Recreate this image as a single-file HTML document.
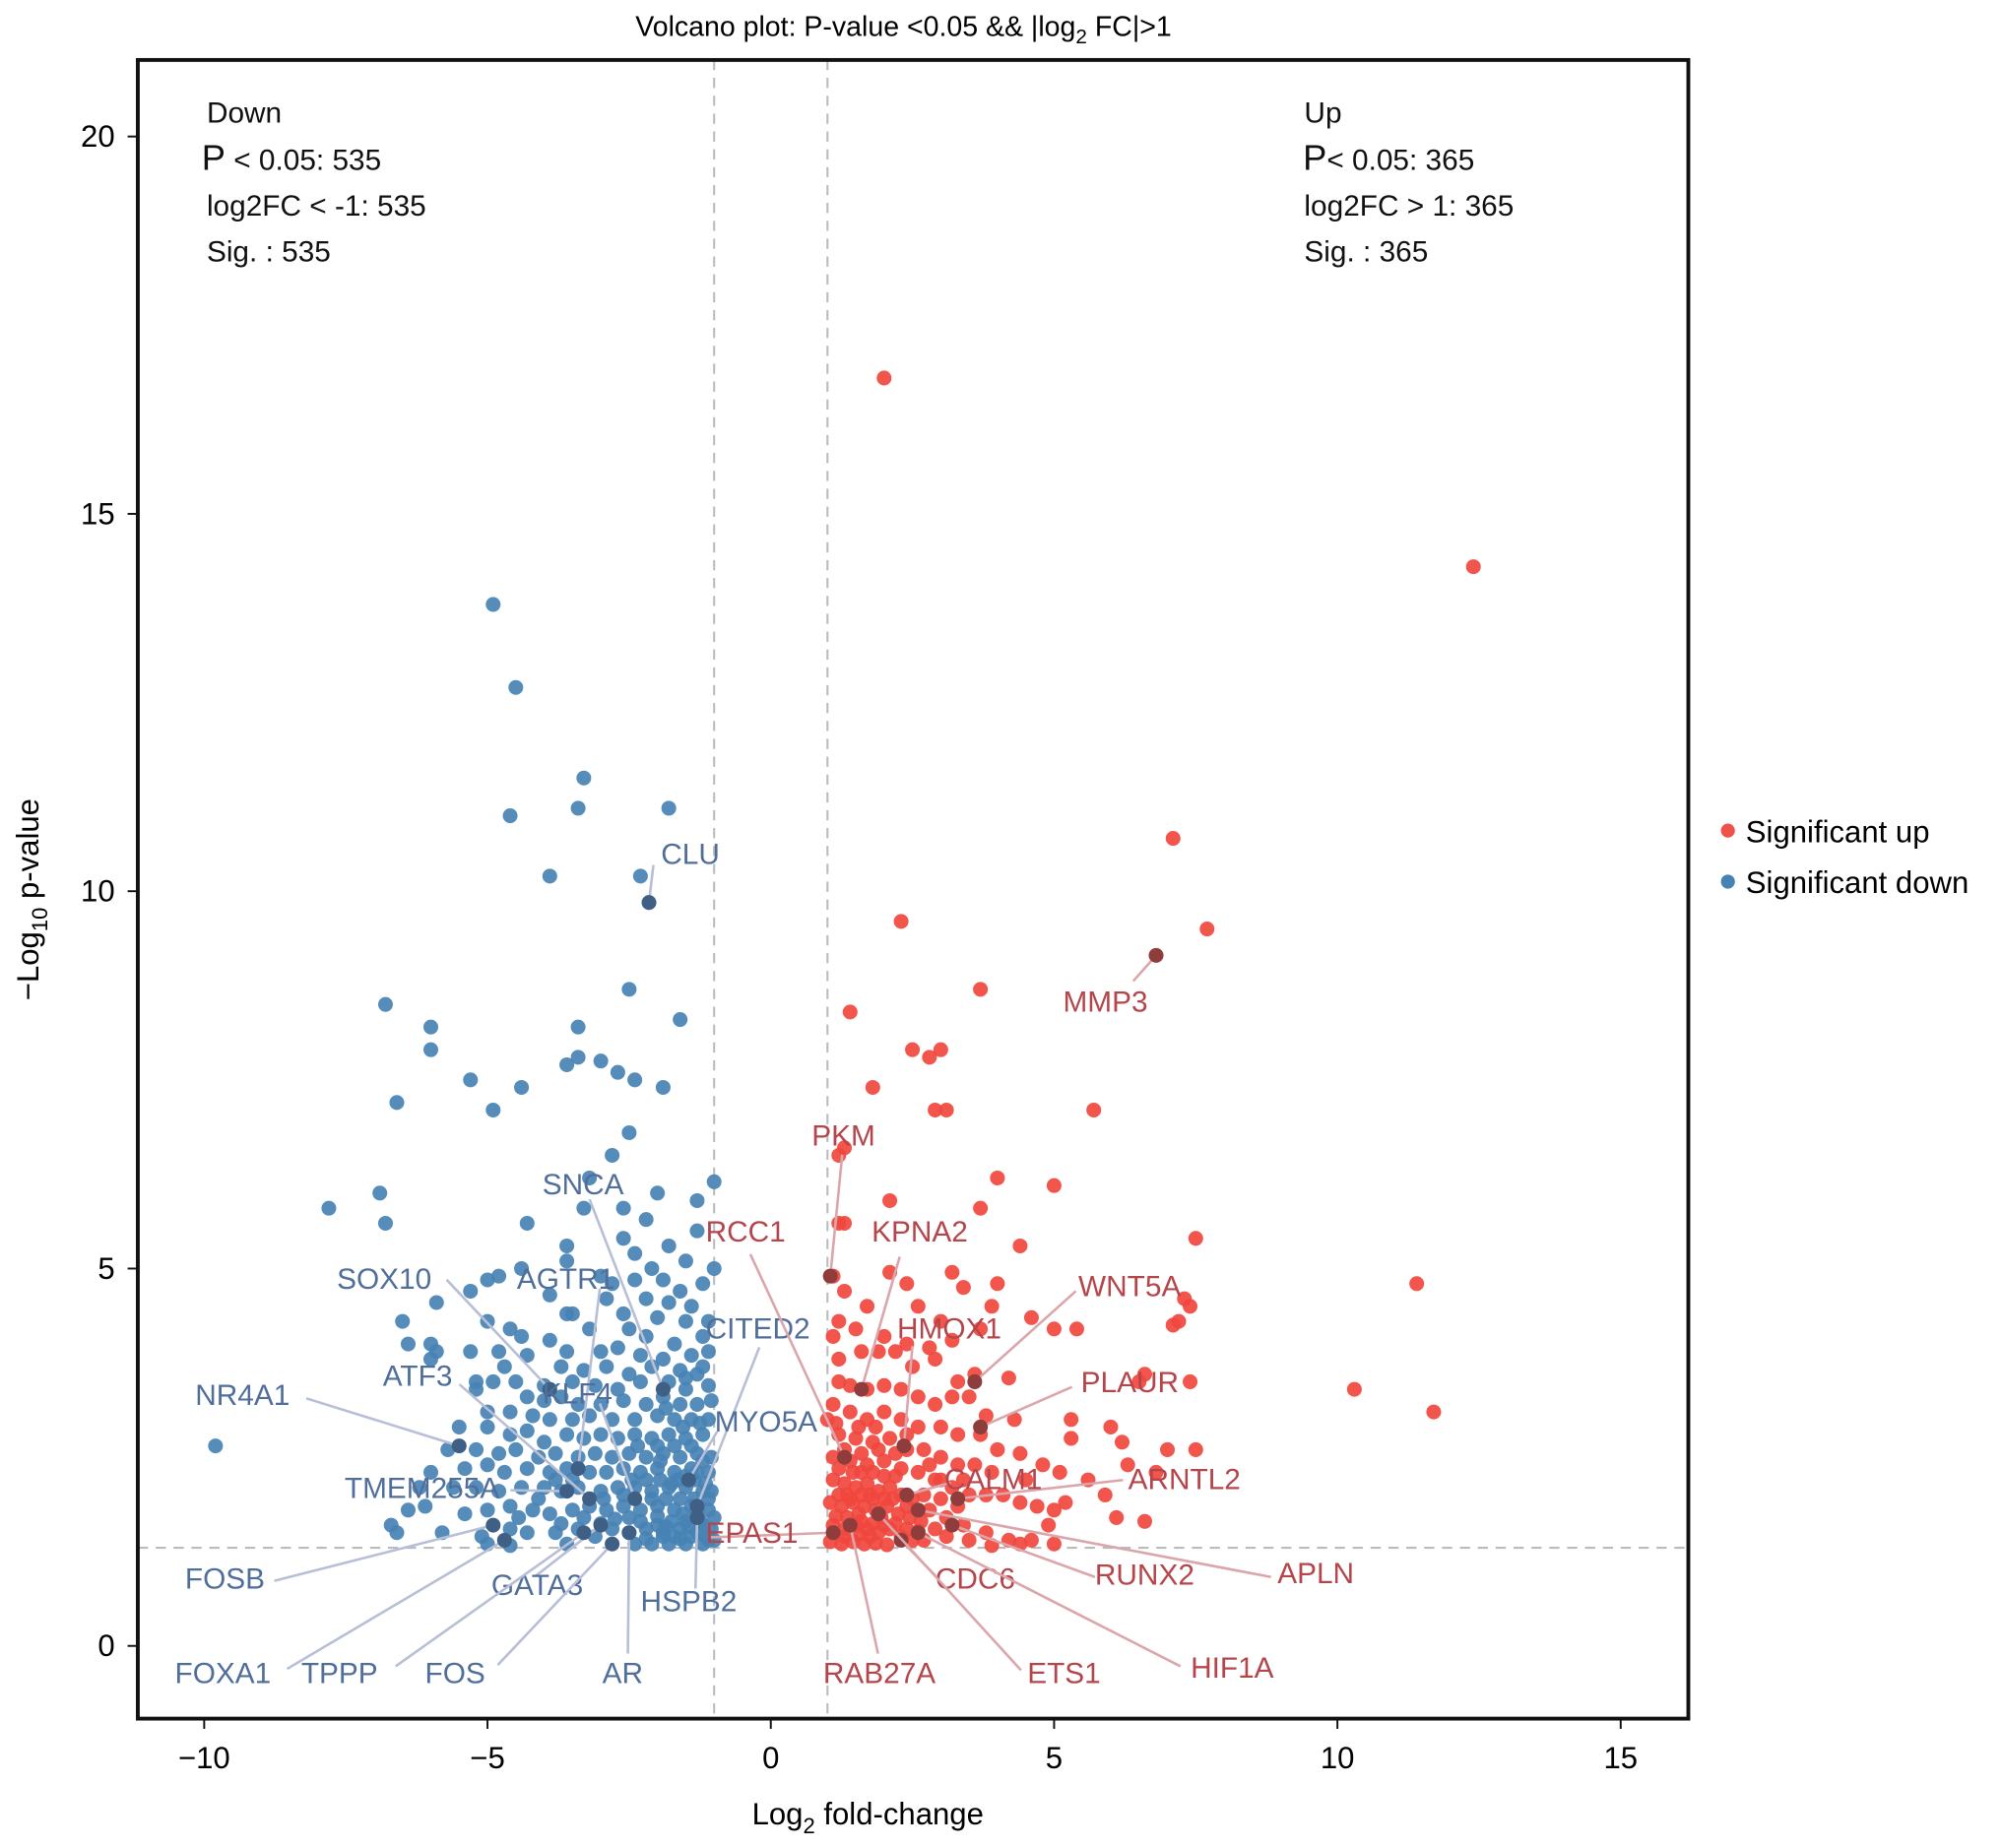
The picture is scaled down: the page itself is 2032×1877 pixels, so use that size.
<!DOCTYPE html>
<html><head><meta charset="utf-8"><style>
html,body{margin:0;padding:0;background:#fff}
svg{display:block}
text{font-family:"Liberation Sans",Arial,sans-serif}
</style></head><body>
<svg id="chart" width="2032" height="1877" viewBox="0 0 1568 1448.4" xmlns="http://www.w3.org/2000/svg">
<text x="708" y="28" font-size="22" text-anchor="middle">Volcano plot: P-value &lt;0.05 &amp;&amp; |log<tspan font-size="16" dy="6">2</tspan><tspan dy="-6"> FC|&gt;1</tspan></text>
<g id="ann" font-size="23" fill="#111">
<text x="162" y="96">Down</text>
<text x="158" y="133"><tspan font-size="28">P</tspan> &lt; 0.05: 535</text>
<text x="162" y="169">log2FC &lt; -1: 535</text>
<text x="162" y="205">Sig. : 535</text>
<text x="1022" y="96">Up</text>
<text x="1021" y="133"><tspan font-size="28">P</tspan>&lt; 0.05: 365</text>
<text x="1022" y="169">log2FC &gt; 1: 365</text>
<text x="1022" y="205">Sig. : 365</text>
</g>
<g font-size="24">
<circle cx="1354" cy="651" r="5.5" fill="#f0524a"/>
<text x="1368" y="660">Significant up</text>
<circle cx="1354" cy="691" r="5.5" fill="#4682b4"/>
<text x="1368" y="700">Significant down</text>
</g>
<text x="680" y="1430" font-size="24" text-anchor="middle">Log<tspan font-size="17" dy="7">2</tspan><tspan dy="-7"> fold-change</tspan></text>
<text transform="translate(30,705) rotate(-90)" font-size="24" text-anchor="middle">−Log<tspan font-size="17" dy="7">10</tspan><tspan dy="-7"> p-value</tspan></text>
<g id="plot"></g>
</svg>
<script>
const xTicks = [-10, -5, 0, 5, 10, 15];
const xTickLabels = ["−10", "−5", "0", "5", "10", "15"];
const yTicks = [0, 5, 10, 15, 20];
const yTickLabels = ["0", "5", "10", "15", "20"];
const pThreshold = 1.3;
const fcThreshold = 1;
const downPoints = [[-4.9,13.8],[-4.5,12.7],[-3.3,11.5],[-4.6,11.0],[-3.4,11.1],[-1.8,11.1],[-3.9,10.2],[-2.3,10.2],[-2.5,8.7],[-6.8,8.5],[-6.0,8.2],[-6.0,7.9],[-3.4,8.2],[-1.6,8.3],[-6.6,7.2],[-5.3,7.5],[-4.9,7.1],[-4.4,7.4],[-3.6,7.7],[-3.4,7.8],[-3.0,7.75],[-2.7,7.6],[-2.4,7.5],[-1.9,7.4],[-2.5,6.8],[-2.8,6.5],[-7.8,5.8],[-6.9,6.0],[-6.8,5.6],[-1.0,6.15],[-9.8,2.65],
[-3.2,6.2],[-2.0,6.0],[-1.3,5.9],[-3.3,5.8],[-2.6,5.8],[-4.3,5.6],[-2.2,5.65],[-1.3,5.5],[-2.6,5.4],[-3.6,5.3],[-1.8,5.3],[-2.4,5.2],[-1.5,5.1],[-3.6,5.1],[-4.4,5.0],[-2.1,5.0],[-1.0,5.0],
[-4.8,4.9],[-5.0,4.85],[-3.0,4.9],[-2.8,4.8],[-2.4,4.85],[-1.9,4.85],[-1.6,4.7],[-1.2,4.8],[-5.3,4.7],[-3.9,4.65],[-2.9,4.6],[-2.2,4.6],[-1.8,4.55],[-1.4,4.5],[-5.9,4.55],[-3.6,4.4],[-3.5,4.4],[-2.6,4.4],[-2.0,4.35],[-1.5,4.3],[-1.1,4.3],
[-6.5,4.3],[-5.0,4.3],[-4.6,4.2],[-4.4,4.1],[-3.9,4.05],[-3.2,4.2],[-2.5,4.2],[-2.2,4.1],[-1.7,4.0],[-1.2,4.1],[-6.0,4.0],[-6.4,4.0],[-5.3,3.9],[-4.8,3.9],[-4.3,3.85],[-3.6,3.9],[-3.0,3.9],[-2.7,3.95],[-2.3,3.85],[-1.9,3.8],[-1.4,3.85],[-1.1,3.9],
[-5.9,3.9],[-6.0,3.8],[-4.7,3.7],[-3.7,3.7],[-3.3,3.65],[-2.9,3.7],[-2.5,3.6],[-2.1,3.7],[-1.6,3.65],[-1.3,3.6],[-5.2,3.5],[-4.9,3.5],[-4.5,3.5],[-4.0,3.45],[-3.5,3.5],[-3.1,3.45],[-2.7,3.4],[-2.3,3.5],[-1.8,3.5],[-1.5,3.4],[-1.1,3.45],
[-5.2,3.4],[-4.3,3.3],[-4.0,3.25],[-3.7,3.3],[-3.4,3.2],[-3.0,3.2],[-2.6,3.25],[-2.2,3.2],[-1.9,3.3],[-1.6,3.2],[-1.3,3.2],[-1.05,3.25],[-5.0,3.1],[-4.6,3.1],[-4.2,3.05],[-3.9,3.0],[-3.5,3.0],[-3.2,3.05],[-2.8,3.0],[-2.4,3.0],[-2.0,3.05],[-1.7,3.0],[-1.4,3.0],[-1.1,3.0],
[-5.5,2.9],[-5.0,2.9],[-4.6,2.8],[-4.3,2.85],[-4.0,2.7],[-3.6,2.8],[-3.3,2.75],[-3.0,2.8],[-2.7,2.75],[-2.4,2.8],[-2.1,2.75],[-1.8,2.8],[-1.5,2.75],[-1.2,2.8],[-5.7,2.6],[-5.2,2.6],[-4.8,2.55],[-4.5,2.6],[-4.1,2.5],[-3.8,2.55],[-3.4,2.5],[-3.1,2.55],[-2.8,2.5],[-2.5,2.55],[-2.2,2.5],[-1.9,2.55],[-1.6,2.5],[-1.3,2.55],[-1.05,2.5],
[-6.0,2.3],[-5.4,2.35],[-5.0,2.4],[-4.7,2.3],[-4.3,2.35],[-3.9,2.3],[-3.6,2.35],[-3.2,2.3],[-2.9,2.3],[-2.6,2.35],[-2.3,2.3],[-2.0,2.35],[-1.7,2.3],[-1.4,2.35],[-1.1,2.3],[-6.2,2.1],[-5.6,2.1],[-5.2,2.1],[-4.8,2.05],[-4.4,2.1],[-4.0,2.1],[-3.7,2.05],[-3.4,2.1],[-3.0,2.05],[-2.7,2.1],[-2.4,2.1],[-2.1,2.05],[-1.8,2.1],[-1.5,2.1],[-1.2,2.05],
[-6.4,1.8],[-6.1,1.85],[-5.4,1.75],[-5.0,1.8],[-4.6,1.85],[-4.2,1.8],[-3.9,1.75],[-3.5,1.8],[-3.2,1.85],[-2.9,1.8],[-2.6,1.85],[-2.3,1.8],[-2.0,1.85],[-1.7,1.8],[-1.4,1.85],[-1.1,1.8],[-6.7,1.6],[-6.6,1.5],[-5.8,1.5],[-5.1,1.45],[-4.6,1.55],[-4.3,1.5],[-3.8,1.5],[-3.4,1.55],[-3.1,1.45],[-2.8,1.55],[-2.5,1.5],[-2.2,1.55],[-1.9,1.5],[-1.6,1.55],[-1.3,1.5],[-1.05,1.55],[-5.0,1.35],[-4.6,1.33],[-3.6,1.35],[-2.4,1.35],[-2.1,1.35],[-1.8,1.35],[-1.5,1.35],[-1.2,1.35],[-1.0,1.4],
[-2.0,1.6],[-1.75,1.65],[-1.5,1.65],[-1.25,1.65],[-1.0,1.7],[-2.1,1.95],[-1.85,1.95],[-1.6,1.95],[-1.35,1.95],[-1.1,1.95],[-1.95,2.2],[-1.65,2.2],[-1.35,2.2],[-1.15,2.15],[-1.9,1.45],[-1.6,1.42],[-1.4,1.45],[-1.15,1.45],[-2.3,1.65],[-2.5,1.7],
[-2.2,1.42],[-2.0,1.72],[-1.85,1.58],[-1.7,1.45],[-1.55,1.75],[-1.45,1.58],[-1.3,1.78],[-1.2,1.6],[-1.1,1.4],[-1.05,2.05],[-1.2,2.45],[-1.4,2.65],[-1.7,2.65],[-2.0,2.65],[-1.55,2.9],[-1.25,2.95],[-1.5,3.55],[-1.2,3.7],[-1.85,3.15],[-2.35,2.65],[-2.6,2.0],[-2.75,1.68],[-3.0,1.62],[-2.95,1.95],[-3.3,1.7],[-3.5,2.2],[-3.8,2.2],[-4.1,1.95],[-4.45,1.7],[-3.7,1.62],[-2.2,2.2],[-1.95,2.45],[-1.75,2.15],[-1.5,2.25],[-1.3,2.3],[-2.45,2.2]];
const upPoints = [[2.0,16.8],[12.4,14.3],[7.1,10.7],[2.3,9.6],[7.7,9.5],[3.7,8.7],[1.4,8.4],[2.5,7.9],[2.8,7.8],[3.0,7.9],[1.8,7.4],[2.9,7.1],[3.1,7.1],[5.7,7.1],[1.2,6.5],[1.3,6.6],[4.0,6.2],[5.0,6.1],[2.1,5.9],[3.7,5.8],[1.2,5.6],[7.5,5.4],[4.4,5.3],[11.4,4.8],[10.3,3.4],[11.7,3.1],[7.3,4.6],[7.4,4.5],[7.2,4.3],[7.1,4.25],[5.0,4.2],[6.6,3.6],[7.4,3.5],
[1.3,5.6],[1.1,4.9],[2.1,4.95],[2.4,4.8],[3.2,4.95],[3.4,4.75],[4.0,4.8],[3.9,4.5],[3.7,4.2],[4.6,4.35],[5.4,4.2],[1.3,4.7],[1.7,4.5],[2.6,4.5],[3.0,4.3],[1.2,4.3],[1.5,4.2],[2.0,4.1],[2.4,4.0],[2.8,3.95],[3.2,4.05],[1.1,4.1],[1.6,3.9],[1.9,3.9],[2.2,3.9],[2.5,3.7],[2.9,3.8],[3.3,3.5],[3.6,3.6],[4.2,3.55],[1.2,3.5],[1.4,3.45],[1.7,3.4],[2.0,3.45],[2.3,3.4],[2.6,3.3],[2.9,3.2],[3.2,3.3],[3.5,3.3],[3.8,3.05],[4.3,3.0],[5.3,3.0],[5.3,2.75],[6.5,3.5],[6.0,2.9],[6.2,2.7],[7.0,2.6],[7.5,2.6],[6.3,2.4],[6.8,2.3],[5.6,2.2],[5.9,2.0],[6.1,1.7],[6.6,1.65],
[1.1,3.2],[1.4,3.1],[1.7,3.0],[2.0,3.1],[2.3,3.0],[2.6,2.9],[3.0,2.9],[3.3,2.8],[3.7,2.8],[4.0,2.6],[4.4,2.55],[4.8,2.4],[5.1,2.3],[3.6,2.4],[3.9,2.3],[1.2,2.8],[1.5,2.75],[1.8,2.7],[2.1,2.75],[2.4,2.6],[2.7,2.6],[3.0,2.5],[3.3,2.4],[1.1,2.5],[1.4,2.45],[1.7,2.4],[2.0,2.45],[2.3,2.35],[2.6,2.3],[2.9,2.2],[3.2,2.1],[3.5,2.0],[3.8,2.0],[4.1,2.0],[4.4,1.9],[4.7,1.85],[5.0,1.8],[5.2,1.9],[4.5,2.2],[4.9,1.6],[4.6,1.4],[5.0,1.35],[4.2,1.4],[3.8,1.5],[3.4,1.6],[3.1,1.7],[2.8,1.8],
[1.1,2.2],[1.3,2.15],[1.5,2.1],[1.7,2.15],[1.9,2.05],[2.1,2.1],[2.3,2.0],[2.5,1.95],[2.7,2.0],[1.05,1.9],[1.25,1.85],[1.45,1.9],[1.65,1.85],[1.85,1.8],[2.05,1.85],[2.25,1.75],[2.45,1.7],[2.65,1.65],[2.9,1.55],[3.1,1.45],[3.5,1.4],[1.1,1.6],[1.3,1.55],[1.5,1.6],[1.7,1.55],[1.9,1.5],[2.1,1.55],[2.3,1.45],[2.5,1.4],[2.7,1.4],[1.05,1.38],[1.25,1.35],[1.45,1.38],[1.65,1.35],[1.85,1.36],[2.05,1.34],[3.9,1.33],[4.4,1.35],[1.2,3.8],[1.0,3.0],[1.6,2.3],[1.9,2.6],[2.2,2.25],[1.35,2.0],[1.55,1.75],[1.75,2.0],[1.95,1.7],[2.15,1.95],
[1.15,1.72],[1.35,1.7],[1.6,1.65],[1.8,1.62],[2.0,1.6],[2.2,1.62],[2.4,1.55],[1.2,2.0],[1.4,1.95],[1.6,2.0],[1.8,1.95],[2.0,1.95],[2.4,1.85],[2.6,1.8],[1.2,2.35],[1.45,2.3],[1.8,2.3],[2.0,2.25],[1.3,2.6],[1.6,2.55],[2.2,2.55],[1.15,2.95],[1.55,2.9],[1.85,2.9],[2.4,2.8],[2.8,2.4],[3.0,2.2],[3.4,2.2],[1.3,1.45],[1.55,1.48],[1.75,1.45],[2.6,1.52],[3.3,1.85],[3.0,1.95]];
const downGenes = ["CLU","SNCA","SOX10","AGTR1","CITED2","ATF3","KLF4","NR4A1","MYO5A","TMEM255A","FOSB","GATA3","HSPB2","FOXA1","TPPP","FOS","AR"];
const downGeneX = [-2.15,-1.9,-3.9,-3.4,-1.3,-3.2,-2.4,-5.5,-1.45,-3.6,-4.9,-3.0,-1.3,-4.7,-3.3,-2.8,-2.5];
const downGeneY = [9.85,3.4,3.4,2.35,1.85,1.95,1.95,2.65,2.2,2.05,1.6,1.6,1.7,1.4,1.5,1.35,1.5];
const upGenes = ["MMP3","PKM","RCC1","KPNA2","WNT5A","HMOX1","PLAUR","ARNTL2","CALM1","EPAS1","CDC6","RUNX2","APLN","RAB27A","ETS1","HIF1A"];
const upGeneX = [6.8,1.05,1.3,1.6,3.6,2.35,3.7,3.3,2.4,1.1,2.3,3.2,2.6,1.4,1.9,2.6];
const upGeneY = [9.15,4.9,2.5,3.4,3.5,2.65,2.9,1.95,2.0,1.5,1.4,1.6,1.8,1.6,1.75,1.5];
// label layout (pixel anchor of text, and leader-line start) - layout, not data
const downLabelPos = [[518,677,512,678],[425,936,462,940],[264,1010,350,1003],[405,1010,470,1010],[553,1049,595,1056],[300,1086,360,1085],[425,1100,470,1100],[153,1101,240,1096],[560,1122,562,1122],[270,1174,400,1168],[145,1245,215,1239],[385,1250,420,1235],[502,1263,545,1245],[137,1319,225,1308],[236,1319,310,1306],[333,1319,390,1305],[472,1319,492,1296]];
const upLabelPos = [[833,793,888,769],[636,898,660,905],[553,973,588,983],[683,973,705,985],[845,1016,843,1012],[703,1049,715,1055],[847,1091,840,1087],[884,1167,880,1160],[740,1167,745,1162],[553,1209,555,1205],[733,1245,733,1235],[858,1242,858,1236],[1001,1241,996,1236],[645,1319,688,1296],[805,1319,800,1309],[933,1315,925,1306]];

const L=108,R=1323,T=47,B=1347;
const xs = v => 604 + 44.4*v;
const ys = v => 1290 - 59.15*v;
const NS='http://www.w3.org/2000/svg';
const plot=document.getElementById('plot');
function mk(tag, attrs, parent){const e=document.createElementNS(NS,tag);for(const k in attrs)e.setAttribute(k,attrs[k]);(parent||plot).appendChild(e);return e;}

const thr=mk('g',{});


let ln=mk('line',{x1:xs(-fcThreshold),x2:xs(-fcThreshold),y1:T,y2:B,stroke:'#bbb','stroke-width':1.6,'stroke-dasharray':'8,6'},thr);


ln=mk('line',{x1:xs(fcThreshold),x2:xs(fcThreshold),y1:T,y2:B,stroke:'#bbb','stroke-width':1.6,'stroke-dasharray':'8,6'},thr);


ln=mk('line',{x1:L,x2:R,y1:ys(pThreshold),y2:ys(pThreshold),stroke:'#bbb','stroke-width':1.6,'stroke-dasharray':'8,6'},thr);



const gd=mk('g',{});


downPoints.forEach(p=>{const c=mk('circle',{cx:xs(p[0]),cy:ys(p[1]),r:5.8,fill:'#4682b4','fill-opacity':0.92},gd);

});
const gu=mk('g',{});


upPoints.forEach(p=>{const c=mk('circle',{cx:xs(p[0]),cy:ys(p[1]),r:5.8,fill:'#f0473d','fill-opacity':0.92},gu);

});

function labels(names,gx,gy,pos,dot,lineC,textC,grp){
 const g=mk('g',{'font-size':23});
 
 
 names.forEach((n,i)=>{
  const px=xs(gx[i]),py=ys(gy[i]);
  const l=mk('line',{x1:pos[i][2],y1:pos[i][3],x2:px,y2:py,stroke:lineC,'stroke-width':2},g);
  
  
  const c=mk('circle',{cx:px,cy:py,r:5.8,fill:dot},g);
  
  
  const t=mk('text',{x:pos[i][0],y:pos[i][1],fill:textC},g);
  t.textContent=n;
  
  
 });
}
labels(downGenes,downGeneX,downGeneY,downLabelPos,'#3f5f85','#b7bfd6','#4f6e99','down-gene-labels');
labels(upGenes,upGeneX,upGeneY,upLabelPos,'#8e3c3c','#dba6ab','#b4454b','up-gene-labels');

const fr=mk('rect',{x:L,y:T,width:R-L,height:B-T,fill:'none',stroke:'#111','stroke-width':3});


const xa=mk('g',{'font-size':24});


xTicks.forEach((v,i)=>{mk('line',{x1:xs(v),x2:xs(v),y1:B,y2:B+8,stroke:'#111','stroke-width':1.5},xa);
 const t=mk('text',{x:xs(v),y:B+39,'text-anchor':'middle'},xa);t.textContent=xTickLabels[i];
 
 });
const ya=mk('g',{'font-size':24});


yTicks.forEach((v,i)=>{mk('line',{x1:L-8,x2:L,y1:ys(v),y2:ys(v),stroke:'#111','stroke-width':1.5},ya);
 const t=mk('text',{x:L-18,y:ys(v)+8,'text-anchor':'end'},ya);t.textContent=yTickLabels[i];
 
 });
</script>
</body></html>
